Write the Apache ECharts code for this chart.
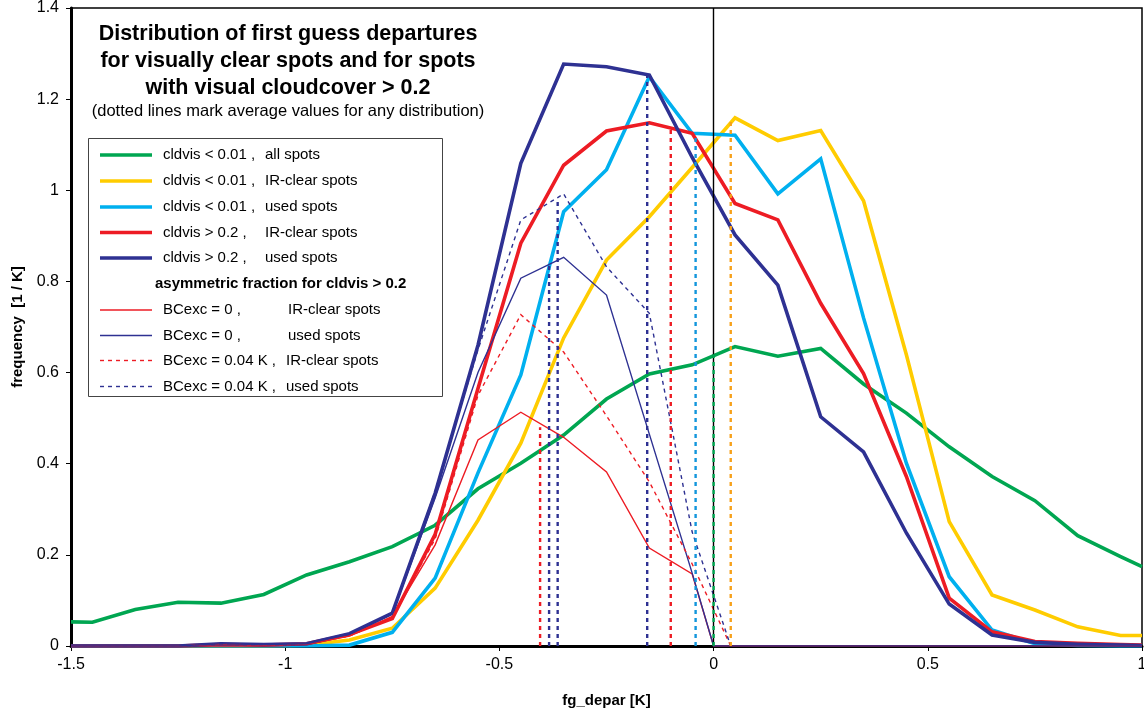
<!DOCTYPE html>
<html>
<head>
<meta charset="utf-8">
<script src="https://cdn.jsdelivr.net/npm/echarts@6/dist/echarts.min.js"></script>
<style>
  html, body { margin: 0; padding: 0; background: #ffffff; }
  #chart { width: 1144px; height: 716px; }
</style>
</head>
<body>
<div id="chart"></div>
<script>
// ---- data: first-guess departure distributions (fg_depar in K, frequency in 1/K) ----
const xBins = [-1.5, -1.45, -1.35, -1.25, -1.15, -1.05, -0.95, -0.85, -0.75, -0.65, -0.55, -0.45, -0.35,
  -0.25, -0.15, -0.05, 0.05, 0.15, 0.25, 0.35, 0.45, 0.55, 0.65, 0.75, 0.85, 0.95, 1.0];

const clearAll = [0.053, 0.052, 0.080, 0.096, 0.094, 0.113, 0.156, 0.185, 0.218, 0.265, 0.345, 0.401, 0.463,
  0.542, 0.597, 0.617, 0.657, 0.636, 0.653, 0.575, 0.511, 0.437, 0.372, 0.319, 0.242, 0.196, 0.174];
const clearIR = [0, 0, 0, 0, 0, 0, 0.002, 0.013, 0.039, 0.127, 0.276, 0.445, 0.676,
  0.847, 0.942, 1.050, 1.159, 1.109, 1.131, 0.977, 0.639, 0.273, 0.112, 0.079, 0.042, 0.023, 0.023];
const clearUsed = [0, 0, 0, 0, 0, 0, 0, 0.002, 0.030, 0.149, 0.380, 0.595, 0.953,
  1.045, 1.249, 1.125, 1.121, 0.992, 1.069, 0.720, 0.401, 0.152, 0.035, 0.005, 0.001, 0, 0];
const cloudyIR = [0, 0, 0, 0, 0.003, 0.002, 0.005, 0.025, 0.060, 0.245, 0.565, 0.884, 1.055,
  1.130, 1.148, 1.125, 0.971, 0.935, 0.752, 0.598, 0.372, 0.105, 0.031, 0.010, 0.006, 0.003, 0.002];
const cloudyUsed = [0, 0, 0, 0, 0.005, 0.003, 0.005, 0.027, 0.072, 0.335, 0.660, 1.059, 1.277,
  1.271, 1.253, 1.072, 0.902, 0.792, 0.503, 0.426, 0.248, 0.092, 0.024, 0.008, 0.004, 0.002, 0.001];

// asymmetric fraction for cldvis > 0.2 (zero for positive departures)
const xAsym0 = [-1.5, -1.45, -1.35, -1.25, -1.15, -1.05, -0.95, -0.85, -0.75, -0.65, -0.55, -0.45, -0.35,
  -0.25, -0.15, -0.05, 0, 0.05, 0.15, 0.25, 0.35, 0.45, 0.55, 0.65, 0.75, 0.85, 0.95, 1.0];
const asym0IR = [0, 0, 0, 0, 0.004, 0.002, 0.004, 0.022, 0.065, 0.222, 0.452, 0.513, 0.458,
  0.382, 0.215, 0.158, 0, 0, 0, 0, 0, 0, 0, 0, 0, 0, 0, 0];
const asym0Used = [0, 0, 0, 0, 0.005, 0.003, 0.005, 0.026, 0.070, 0.325, 0.600, 0.807, 0.853,
  0.770, 0.465, 0.160, 0, 0, 0, 0, 0, 0, 0, 0, 0, 0, 0, 0];
const xAsym04 = [-1.5, -1.45, -1.35, -1.25, -1.15, -1.05, -0.95, -0.85, -0.75, -0.65, -0.55, -0.45, -0.35,
  -0.25, -0.15, -0.05, 0.04];
const asym04IR = [0, 0, 0, 0, 0.004, 0.002, 0.004, 0.022, 0.063, 0.235, 0.550, 0.727, 0.645,
  0.505, 0.360, 0.180, 0];
const asym04Used = [0, 0, 0, 0, 0.005, 0.003, 0.005, 0.026, 0.071, 0.340, 0.650, 0.935, 0.992,
  0.832, 0.730, 0.250, 0];

// average value of each distribution (dotted verticals) and the curve height there
const meanX =   [-0.405, -0.384, -0.364, -0.155, -0.100, -0.042, 0.0, 0.040];
const meanTop = [0.480, 0.840, 0.980, 1.253, 1.135, 1.123, 0.640, 1.157];

const yTicks = { min: 0, max: 1.4, step: 0.2 };
const xTicks = { min: -1.5, max: 1.0, step: 0.5 };

const titleLines = [
  'Distribution of first guess departures',
  'for visually clear spots and for spots',
  'with visual cloudcover > 0.2'
];
const subTitle = '(dotted lines mark average values for any distribution)';

const legendLeft = ['cldvis < 0.01 ,', 'cldvis < 0.01 ,', 'cldvis < 0.01 ,', 'cldvis > 0.2 ,', 'cldvis > 0.2 ,',
  'BCexc = 0 ,', 'BCexc = 0 ,', 'BCexc = 0.04 K ,', 'BCexc = 0.04 K ,'];
const legendRight = ['all spots', 'IR-clear spots', 'used spots', 'IR-clear spots', 'used spots',
  'IR-clear spots', 'used spots', 'IR-clear spots', 'used spots'];
const legendHeading = 'asymmetric fraction for cldvis > 0.2';

// ---- styling ----
const FONT = "'Liberation Sans', Arial, sans-serif";
const C = {
  green: '#00a651', yellow: '#ffcc00', cyan: '#00b0ef', red: '#ed1c24', navy: '#2e3192',
  orange: '#f7a11a', cyanMean: '#1296dc'
};

const pairs = (xs, ys) => xs.map((x, i) => [x, ys[i]]);

const curveDefs = [
  { x: xBins, y: clearAll, color: C.green, width: 3.6, dash: 'solid' },
  { x: xBins, y: clearIR, color: C.yellow, width: 3.6, dash: 'solid' },
  { x: xBins, y: clearUsed, color: C.cyan, width: 3.6, dash: 'solid' },
  { x: xBins, y: cloudyIR, color: C.red, width: 3.6, dash: 'solid' },
  { x: xBins, y: cloudyUsed, color: C.navy, width: 3.6, dash: 'solid' },
  { x: xAsym0, y: asym0IR, color: C.red, width: 1.4, dash: 'solid' },
  { x: xAsym0, y: asym0Used, color: C.navy, width: 1.4, dash: 'solid' },
  { x: xAsym04, y: asym04IR, color: C.red, width: 1.4, dash: [4, 4] },
  { x: xAsym04, y: asym04Used, color: C.navy, width: 1.4, dash: [4, 4] }
];
const meanColors = [C.red, C.navy, C.navy, C.navy, C.red, C.cyanMean, C.green, C.orange];

const series = curveDefs.map((d, i) => ({
  name: legendLeft[i] + ' ' + legendRight[i],
  type: 'line',
  data: pairs(d.x, d.y),
  showSymbol: false,
  symbol: 'none',
  silent: true,
  z: 3 + (i >= 5 ? 1 : 0),
  lineStyle: { color: d.color, width: d.width, type: d.dash, cap: 'butt', join: 'miter' },
  itemStyle: { color: d.color }
}));

// zero-departure reference line
series[0].markLine = {
  silent: true, symbol: 'none', label: { show: false },
  lineStyle: { color: '#000', width: 1.4, type: 'solid' },
  data: [{ xAxis: 0 }]
};

meanX.forEach((mx, i) => {
  series.push({
    type: 'line',
    data: [[mx, 0], [mx, meanTop[i]]],
    showSymbol: false, symbol: 'none', silent: true, z: 6,
    lineStyle: { color: meanColors[i], width: 2.4, type: [4, 4] }
  });
});

// ---- legend box and titles (graphic layer) ----
const graphic = [];
titleLines.forEach((t, i) => {
  graphic.push({
    type: 'text', x: 288, y: 34 + i * 27,
    style: { text: t, font: 'bold 21.5px ' + FONT, fill: '#000', textAlign: 'center', textVerticalAlign: 'middle' }
  });
});
graphic.push({
  type: 'text', x: 288, y: 111,
  style: { text: subTitle, font: '16.5px ' + FONT, fill: '#000', textAlign: 'center', textVerticalAlign: 'middle' }
});
graphic.push({
  type: 'rect', shape: { x: 88.5, y: 138.5, width: 354, height: 258 },
  style: { fill: '#fff', stroke: '#444', lineWidth: 1 }, z: 10
});
const rowY = [155, 181, 207, 232.5, 258, 310, 335.5, 360.5, 386.5];
const rightCol = [265, 265, 265, 265, 265, 288, 288, 286, 286];
rowY.forEach((y, i) => {
  const d = curveDefs[i];
  graphic.push({
    type: 'line', z: 11,
    shape: { x1: 100, y1: y, x2: 152, y2: y },
    style: { stroke: d.color, lineWidth: i < 5 ? 3.6 : 1.4, lineDash: Array.isArray(d.dash) ? d.dash : null }
  });
  graphic.push({
    type: 'text', z: 11, x: 163, y: y,
    style: { text: legendLeft[i], font: '15px ' + FONT, fill: '#000', textVerticalAlign: 'middle' }
  });
  graphic.push({
    type: 'text', z: 11, x: rightCol[i], y: y,
    style: { text: legendRight[i], font: '15px ' + FONT, fill: '#000', textVerticalAlign: 'middle' }
  });
});
graphic.push({
  type: 'text', z: 11, x: 155, y: 284,
  style: { text: legendHeading, font: 'bold 15px ' + FONT, fill: '#000', textVerticalAlign: 'middle' }
});

const chart = echarts.init(document.getElementById('chart'), null, { renderer: 'canvas' });
chart.setOption({
  animation: false,
  backgroundColor: '#ffffff',
  textStyle: { fontFamily: FONT },
  grid: {
    left: 71, right: 2, top: 8, bottom: 70, containLabel: false, outerBoundsMode: 'none',
    show: true, borderColor: '#000', borderWidth: 1.5, backgroundColor: 'transparent'
  },
  xAxis: {
    type: 'value', min: xTicks.min, max: xTicks.max, interval: xTicks.step,
    name: 'fg_depar [K]', nameLocation: 'middle', nameGap: 47,
    nameTextStyle: { fontFamily: FONT, fontSize: 15, fontWeight: 'bold', color: '#000' },
    axisLine: { show: true, onZero: false, lineStyle: { color: '#000', width: 3 } },
    axisTick: { show: true, length: 5, lineStyle: { color: '#000', width: 1 } },
    axisLabel: { fontFamily: FONT, fontSize: 16, color: '#000', margin: 11, showMinLabel: true, showMaxLabel: true },
    splitLine: { show: false }
  },
  yAxis: {
    type: 'value', min: yTicks.min, max: yTicks.max, interval: yTicks.step,
    name: 'frequency  [1 / K]', nameLocation: 'middle', nameGap: 44,
    nameTextStyle: { fontFamily: FONT, fontSize: 15, fontWeight: 'bold', color: '#000' },
    axisLine: { show: true, onZero: false, lineStyle: { color: '#000', width: 3 } },
    axisTick: { show: true, length: 5, lineStyle: { color: '#000', width: 1 } },
    axisLabel: { fontFamily: FONT, fontSize: 16, color: '#000', margin: 12, showMinLabel: true, showMaxLabel: true },
    splitLine: { show: false }
  },
  series: series,
  graphic: graphic
});
</script>
</body>
</html>
